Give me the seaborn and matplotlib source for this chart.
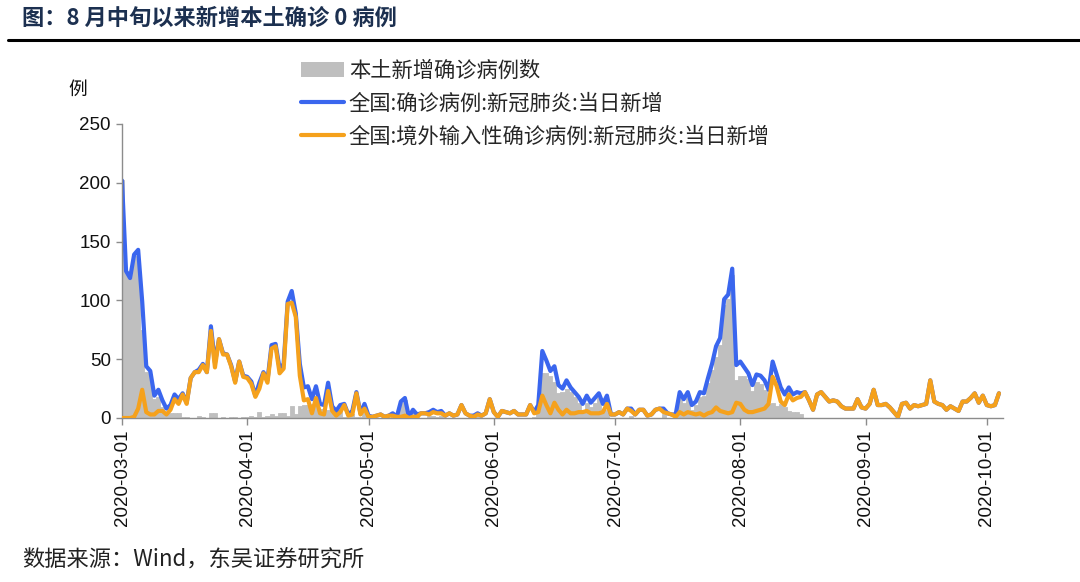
import pandas as pd
import matplotlib
matplotlib.use("Agg")
import matplotlib.pyplot as plt
import matplotlib.dates as mdates
from matplotlib.patches import Patch
from matplotlib.lines import Line2D
import seaborn as sns

# daily values, 2020-03-01 .. 2020-10-04
local_cases = (
    # March
    [202, 125, 119, 138, 135, 75, 39, 37, 16, 18, 9, 5, 4, 4, 4, 1, 1, 0, 0, 2, 1, 0, 4, 4, 0, 1, 0, 1, 1, 0, 1]
    # April
    + [1, 2, 1, 5, 1, 2, 3, 2, 4, 4, 2, 10, 3, 10, 11, 11, 12, 10, 8, 8, 7, 4, 4, 6, 1, 1, 3, 1, 1, 4]
    # May
    + [1, 0, 0, 0, 0, 0, 2, 0, 13, 15, 1, 6, 2, 0, 0, 2, 2, 1, 2, 0, 0, 0, 0, 0, 0, 0, 1, 1, 0, 0, 0]
    # June
    + [0, 0, 0, 0, 0, 0, 0, 0, 0, 0, 1, 6, 38, 38, 36, 31, 21, 22, 25, 22, 18, 13, 7, 13, 9, 13, 17, 7, 7, 0]
    # July
    + [0, 0, 0, 0, 2, 0, 0, 0, 0, 0, 0, 0, 3, 0, 0, 2, 17, 13, 17, 7, 11, 18, 19, 30, 41, 52, 62, 96, 101, 122, 32]
    # August
    + [36, 36, 33, 23, 31, 29, 24, 12, 13, 10, 12, 9, 6, 5, 5, 3, 0, 0, 0, 0, 0, 0, 0, 0, 0, 0, 0, 0, 0, 0, 0]
    # September
    + [0] * 30
    # October
    + [0, 0, 0, 0]
)

imported_cases = (
    [0, 0, 0, 1, 8, 24, 5, 3, 3, 6, 6, 3, 7, 16, 12, 20, 12, 34, 39, 39, 45, 39, 74, 43, 67, 54, 54, 44, 30, 48, 35]
    + [34, 29, 18, 25, 38, 30, 59, 61, 38, 42, 97, 98, 86, 36, 15, 16, 4, 17, 4, 3, 23, 6, 2, 5, 11, 2, 3, 21, 3, 8]
    + [1, 1, 2, 3, 1, 2, 2, 1, 1, 2, 0, 1, 1, 4, 4, 3, 5, 4, 4, 2, 4, 2, 3, 11, 4, 2, 1, 3, 2, 4, 16]
    + [5, 1, 6, 5, 4, 6, 3, 3, 3, 11, 4, 5, 19, 11, 4, 13, 7, 3, 7, 4, 4, 5, 5, 6, 4, 4, 4, 5, 12, 3]
    + [3, 5, 3, 8, 6, 3, 7, 7, 2, 3, 7, 8, 5, 4, 3, 1, 5, 3, 5, 4, 3, 4, 2, 4, 5, 9, 6, 5, 4, 5, 13]
    + [12, 7, 5, 5, 6, 7, 8, 12, 35, 27, 14, 11, 20, 15, 17, 18, 22, 15, 7, 20, 22, 18, 14, 15, 14, 10, 8, 8, 8, 16, 9]
    + [8, 12, 24, 11, 11, 12, 9, 5, 1, 12, 13, 8, 11, 10, 11, 12, 32, 14, 12, 11, 7, 10, 8, 6, 14, 14, 17, 21, 13, 19]
    + [11, 10, 11, 21]
)

total_cases = (
    [202, 125, 119, 139, 143, 99, 44, 40, 19, 24, 15, 8, 11, 20, 16, 21, 13, 34, 39, 41, 46, 39, 78, 47, 67, 55, 54, 45, 31, 48, 36]
    + [35, 31, 19, 30, 39, 32, 62, 63, 42, 46, 99, 108, 89, 46, 26, 27, 16, 27, 12, 11, 30, 10, 6, 11, 12, 3, 6, 22, 4, 12]
    + [2, 1, 2, 3, 1, 2, 4, 1, 14, 17, 1, 7, 3, 4, 4, 5, 7, 5, 6, 2, 4, 2, 3, 11, 4, 2, 2, 4, 2, 4, 16]
    + [5, 1, 6, 5, 4, 6, 3, 3, 3, 11, 5, 11, 57, 49, 40, 44, 28, 25, 32, 26, 22, 18, 12, 19, 13, 17, 21, 12, 19, 3]
    + [3, 5, 3, 8, 8, 3, 7, 7, 2, 3, 7, 8, 8, 4, 3, 3, 22, 16, 22, 11, 14, 22, 21, 34, 46, 61, 68, 101, 105, 127, 45]
    + [48, 43, 38, 28, 37, 36, 32, 24, 48, 37, 26, 20, 26, 20, 22, 21, 22, 15, 7, 20, 22, 18, 14, 15, 14, 10, 8, 8, 8, 16, 9]
    + [8, 12, 24, 11, 11, 12, 9, 5, 1, 12, 13, 8, 11, 10, 11, 12, 32, 14, 12, 11, 7, 10, 8, 6, 14, 14, 17, 21, 13, 19]
    + [11, 10, 11, 21]
)

dates = pd.date_range("2020-03-01", periods=len(total_cases), freq="D")

labels = [
    "本土新增确诊病例数",
    "全国:确诊病例:新冠肺炎:当日新增",
    "全国:境外输入性确诊病例:新冠肺炎:当日新增",
]
title = "图：8 月中旬以来新增本土确诊 0 病例"
source = "数据来源：Wind，东吴证券研究所"

GRAY = "#BFBFBF"
BLUE = "#3A66EE"
ORANGE = "#F5A11C"

df = pd.DataFrame({
    "date": dates,
    "local": local_cases,
    "imported": imported_cases,
    "total": total_cases,
})

sns.set_theme(style="white")
plt.rcParams["font.family"] = ["Liberation Sans", "Noto Sans CJK SC", "DejaVu Sans"]

fig = plt.figure(figsize=(10.8, 5.82), dpi=100)
ax = fig.add_axes([122 / 1080, 1 - 418 / 582, (1003 - 122) / 1080, (418 - 124) / 582])

ax.bar(df["date"], df["local"], width=1.0, color=GRAY, edgecolor=GRAY,
       linewidth=0.6, zorder=1)
sns.lineplot(data=df, x="date", y="total", color=BLUE, lw=3.0, ax=ax, zorder=2)
sns.lineplot(data=df, x="date", y="imported", color=ORANGE, lw=3.0, ax=ax, zorder=3)

ax.set_xlim(pd.Timestamp("2020-03-01"), pd.Timestamp("2020-10-05"))
ax.set_ylim(0, 250)
ax.set_yticks(range(0, 251, 50))
ax.xaxis.set_major_locator(mdates.MonthLocator())
ax.xaxis.set_major_formatter(mdates.DateFormatter("%Y-%m-%d"))
ax.set_xlabel("")
ax.set_ylabel("")

for side in ["top", "right"]:
    ax.spines[side].set_visible(False)
for side in ["left", "bottom"]:
    ax.spines[side].set_color("#8c8c8c")
    ax.spines[side].set_linewidth(1.0)

ax.tick_params(axis="x", which="major", direction="out", length=5, width=1,
               color="#8c8c8c", labelsize=13.5, labelcolor="#111111", pad=3,
               bottom=True, labelrotation=90)
ax.tick_params(axis="y", which="major", direction="out", length=4, width=1,
               color="#8c8c8c", labelsize=13.5, labelcolor="#111111", pad=4, left=True)

fig.text(78 / 1080, 1 - 89 / 582, "例", fontsize=13.5, ha="center", va="center",
         family=["Noto Sans CJK SC"], color="#111111")

handles = [
    Patch(facecolor=GRAY, edgecolor="none"),
    Line2D([0], [0], color=BLUE, lw=3.0),
    Line2D([0], [0], color=ORANGE, lw=3.0),
]
ax.legend(handles, labels, loc="upper left", bbox_to_anchor=(301 / 1080, 1 - 60 / 582),
          bbox_transform=fig.transFigure, frameon=False, borderaxespad=0, borderpad=0,
          handlelength=2.0, handletextpad=0.25, labelspacing=0.5,
          prop={"family": ["Noto Sans CJK SC"], "size": 15.3})

fig.text(22 / 1080, 1 - 18 / 582, title, fontsize=16, fontweight="bold", color="#1c3050",
         ha="left", va="center", family=["Noto Sans CJK SC"])
fig.add_artist(Line2D([8 / 1080, 1.0], [1 - 40 / 582, 1 - 40 / 582],
                      color="black", lw=2.2, transform=fig.transFigure))
fig.text(22 / 1080, 1 - 560 / 582, source, fontsize=16, color="#222222",
         ha="left", va="center", family=["Noto Sans CJK SC"])

fig.savefig("out.png", dpi=100)
